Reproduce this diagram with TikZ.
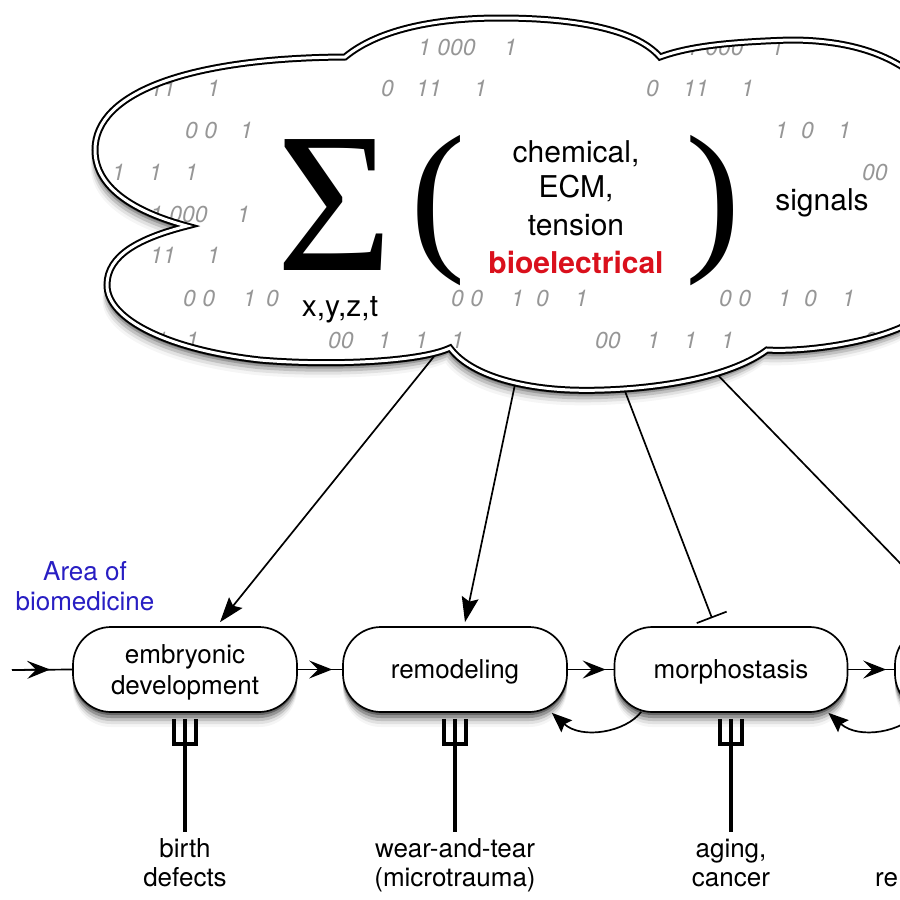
\documentclass[tikz,border=0pt]{standalone}
\usepackage{fontspec}
\setmainfont{TeX Gyre Heros}
\newfontfamily\timesfam{Liberation Serif}
\usetikzlibrary{arrows.meta,calc}
\definecolor{digitgray}{RGB}{150,150,150}
\definecolor{areablue}{RGB}{40,30,195}
\definecolor{bioRed}{RGB}{218,16,28}
\newcommand\cloudpath{(187,226) .. controls (135,212) and (95,188) .. (95,150)
  .. controls (95,92) and (190,58) .. (345,57)
  .. controls (380,28) and (440,18) .. (500,18)
  .. controls (570,18) and (635,28) .. (660,57)
  .. controls (690,46) and (730,42) .. (790,40)
  .. controls (860,40) and (920,60) .. (950,120)
  .. controls (975,180) and (960,300) .. (900,328)
  .. controls (860,345) and (800,352) .. (767,350)
  .. controls (720,385) and (620,392) .. (570,390)
  .. controls (520,388) and (470,375) .. (450,348)
  .. controls (420,362) and (330,366) .. (260,360)
  .. controls (170,350) and (107,320) .. (107,285)
  .. controls (107,255) and (140,238) .. cycle}
\begin{document}
\begin{tikzpicture}[x=1pt,y=-1pt,
  dig/.style={font=\fontsize{23}{23}\selectfont\itshape, text=digitgray, anchor=base west, inner sep=0pt},
  ftxt/.style={font=\fontsize{30}{30}\selectfont, anchor=base, inner sep=0pt},
  bigsym/.style={font=\timesfam\fontsize{166}{166}\selectfont, anchor=base west, inner sep=0pt},
  lbl/.style={font=\fontsize{26}{26}\selectfont, anchor=base, inner sep=0pt},
  pill/.style={draw, line width=1.7pt, fill=white, rounded corners=38pt,
     minimum width=224pt, minimum height=85pt, inner sep=0pt, align=center,
     text depth=0pt, font=\fontsize{26}{31}\selectfont,
     preaction={fill=black, opacity=0.30, transform canvas={yshift=-3pt}},
     preaction={fill=black, opacity=0.22, transform canvas={yshift=-6pt}},
     preaction={fill=black, opacity=0.14, transform canvas={yshift=-9pt}},
     preaction={fill=black, opacity=0.08, transform canvas={yshift=-12pt}},
     preaction={fill=black, opacity=0.04, transform canvas={yshift=-15pt}}},
  conn/.style={line width=1.7pt},
  headarrow/.style={conn, -{Stealth[length=23pt,width=18pt,inset=9pt]}},
  cloudarrow/.style={conn, -{Stealth[length=25pt,width=17pt,inset=4pt]}},
  backarrow/.style={conn, -{Stealth[length=20pt,width=16pt,inset=3pt]}},
  inhibit/.style={conn, -{Bar[width=32pt]}},
  fork/.style={line width=3.4pt, line join=miter, line cap=butt},
]
\useasboundingbox (0,0) rectangle (900,900);
\clip (0,0) rectangle (900,900);
\fill[white] (0,0) rectangle (900,900);

% process nodes
\node[pill] (emb) at (185,669.5) {embryonic\\development};
\node[pill] (rem) at (455,669.5) {remodeling};
\node[pill, minimum width=233pt] (mor) at (731,669.5) {morphostasis};
\node[pill] (nxt) at (1007,669.5) {};

% connectors from the cloud (start inside the cloud)
\coordinate (c1) at (444,344);
\coordinate (c2) at (518,370);
\coordinate (c3) at (618,373);
\coordinate (c4) at (710,367);
\coordinate (c4end) at (960,625);
\draw[cloudarrow] (c1) -- ($(emb.north)+(35,-4)$);
\draw[cloudarrow] (c2) -- ($(rem.north)+(10,-4)$);
\draw[inhibit] (c3) -- ($(mor.north)+(-19,-8)$);
\draw[conn] (c4) -- (c4end);

% cloud shadow and body
\foreach \s/\o in {2/0.35,4/0.28,6/0.2,9/0.14,12/0.08,15/0.04}
  \fill[black, opacity=\o, shift={(-0.3*\s,\s)}] \cloudpath;
\fill[white] \cloudpath;

\begin{scope}
\clip \cloudpath;
\foreach \x/\y/\t [count=\i] in {
  418/55/1 000, 504/55/1, 686/55/1 000, 771/55/1,
  150/96/11, 207/96/1, 381/96/0, 416/96/11, 474/96/1, 646/96/0, 683/96/11, 741/96/1,
  185/138/0 0, 240/138/1, 775/138/1, 801/138/0, 838/138/1,
  112/180/1, 149/180/1, 185/180/1, 862/180/00,
  150/222/1 000, 237/222/1,
  150/263/11, 207/263/1,
  183/306/0 0, 243/306/1, 266/306/0, 451/306/0 0, 511/306/1, 536/306/0, 575/306/1,
  719/306/0 0, 778/306/1, 804/306/0, 842/306/1,
  155/348/1, 186/348/1, 328/348/00, 378/348/1, 415/348/1, 451/348/1,
  595/348/00, 647/348/1, 684/348/1, 721/348/1, 864/348/00}
  \node[dig] (d\i) at (\x,\y) {\t};
\end{scope}

% formula
\node[ftxt, font=\timesfam\fontsize{200}{200}\selectfont, text depth=0pt] (sig) at (335,270) {Σ};
\node[bigsym] (lp) at (410,250) {(};
\node[bigsym] (rp) at (685,250) {)};
\node[ftxt] (sub) at (340,316) {x,y,z,t};
\node[ftxt] (s1) at (576,162) {chemical,};
\node[ftxt] (s2) at (576,197) {ECM,};
\node[ftxt] (s3) at (576,235) {tension};
\node[ftxt, font=\fontsize{30}{30}\selectfont\bfseries, text=bioRed] (s4) at (576,273) {bioelectrical};
\node[ftxt] (sg) at (822,210) {signals};

% cloud outline
\draw[line width=2pt, double=white, double distance=3pt] \cloudpath;

% horizontal flow
\coordinate (in) at (12,670);
\draw[conn] (in) -- (emb.west);
\draw[headarrow] (in) -- ($(emb.west)+(-22,0)$);
\draw[conn] (emb.east) -- (rem.west);
\draw[headarrow] (emb.east) -- ($(rem.west)+(-10,0)$);
\draw[conn] (rem.east) -- (mor.west);
\draw[headarrow] (rem.east) -- ($(mor.west)+(-8,0)$);
\draw[conn] (mor.east) -- (nxt.west);
\draw[headarrow] (mor.east) -- ($(nxt.west)+(-8,0)$);

% feedback arrows
\draw[backarrow] ($(mor.south west)+(27.5,-1)$) .. controls (626,732) and (582,740) .. ($(rem.south east)+(-16,0)$);
\draw[backarrow] ($(nxt.south west)+(24,-1)$) .. controls (903,732) and (859,740) .. ($(mor.south east)+(-20,0)$);

% labels
\node[lbl, text=areablue] (ar1) at (85,580) {Area of};
\node[lbl, text=areablue] (ar2) at (85,610) {biomedicine};
\node[lbl] (b1) at (185,857) {birth};
\node[lbl] (b2) at (185,886) {defects};
\node[lbl] (w1) at (455,857) {wear-and-tear};
\node[lbl] (w2) at (455,886) {(microtrauma)};
\node[lbl] (g1) at (731,857) {aging,};
\node[lbl] (g2) at (731,886) {cancer};
\node[lbl, anchor=base west] (r2) at (875,886) {re};

% forks
\foreach \n/\l in {emb/b1, rem/w1, mor/g1} {
  \draw[fork] ($(\n.south)+(-11,6)$) -- ++(0,25) -- ++(22,0) -- ++(0,-25);
  \draw[fork] ($(\n.south)+(0,6)$) -- ($(\l.north)+(0,-6)$);
}
\end{tikzpicture}
\end{document}
